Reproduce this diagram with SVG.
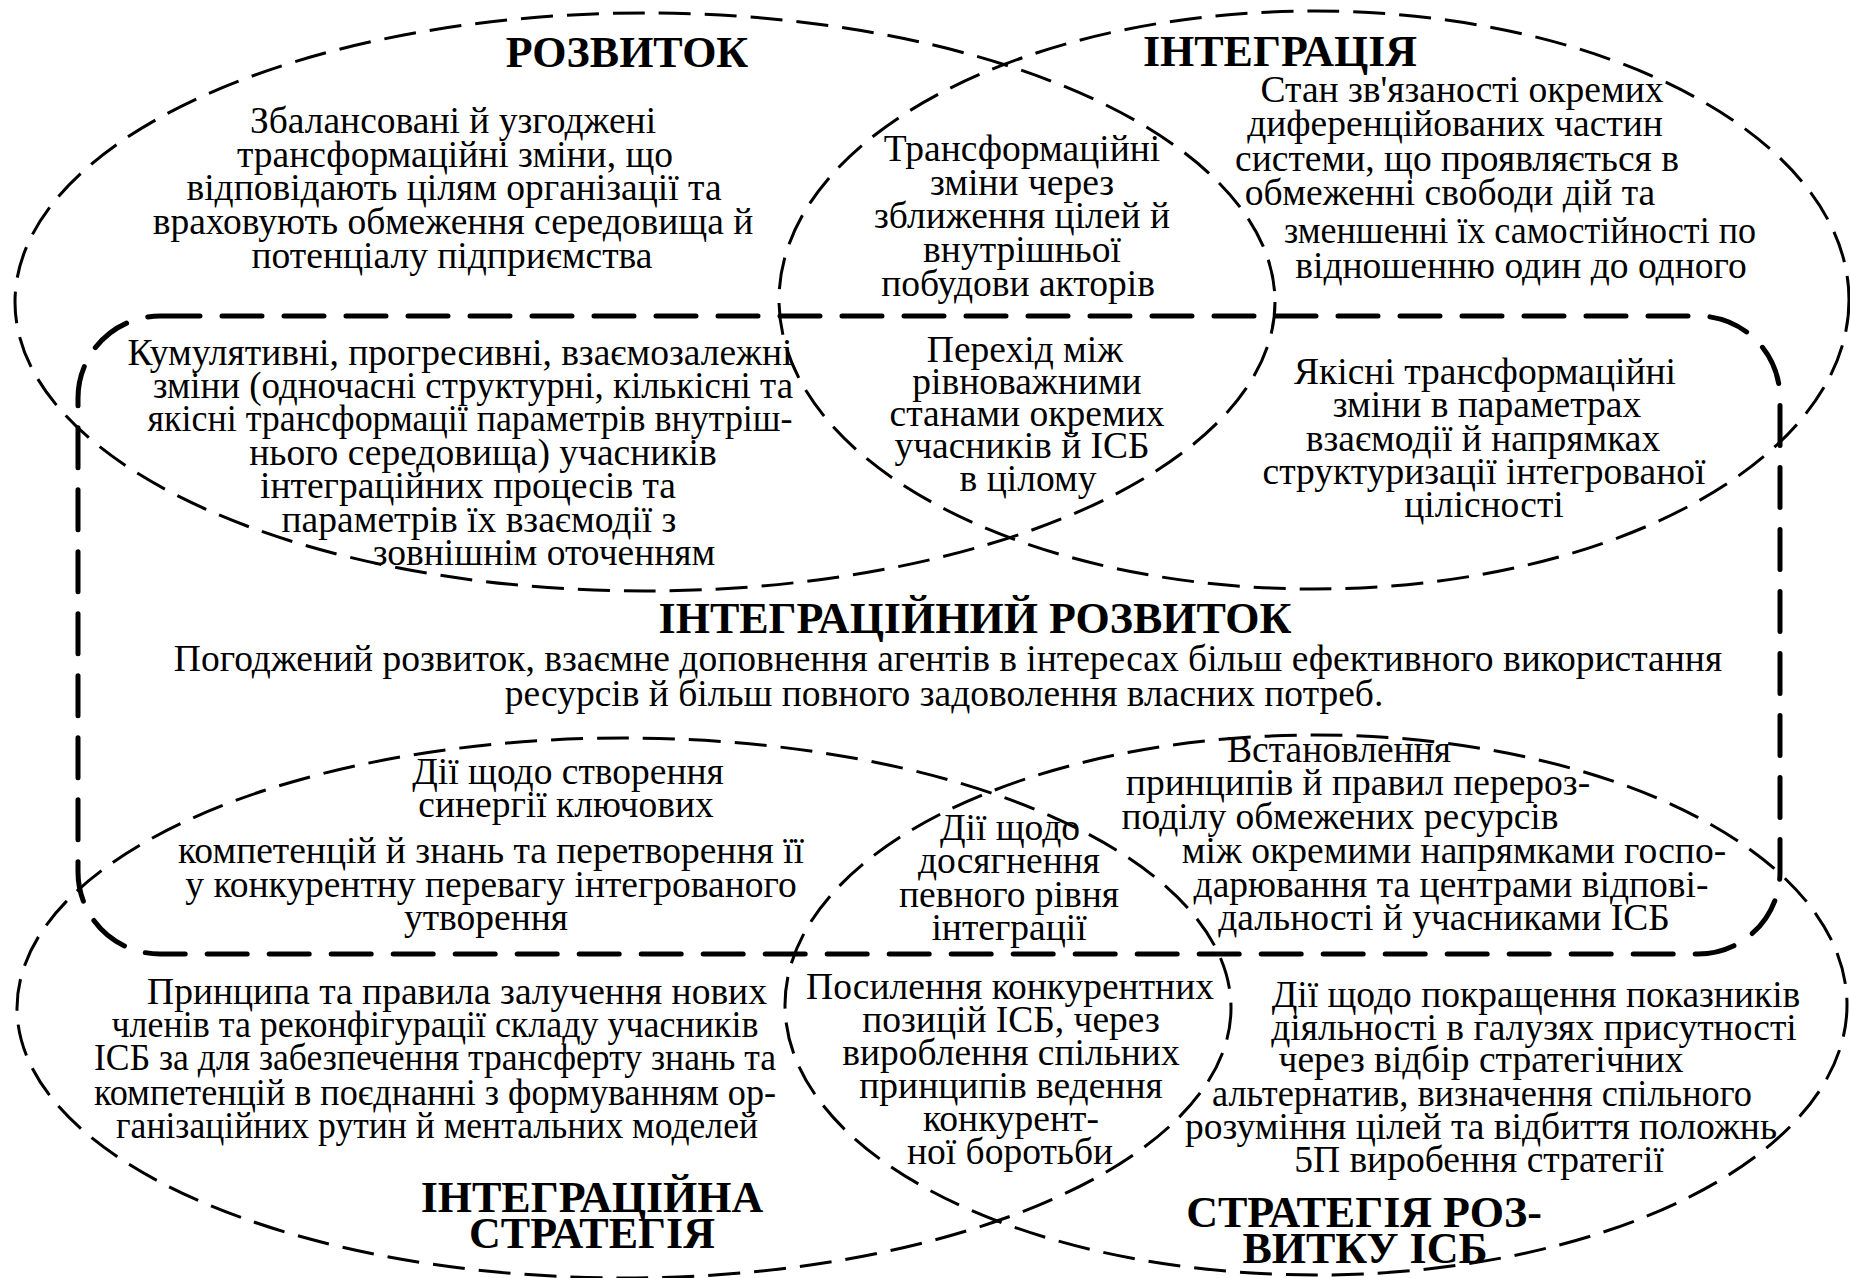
<svg xmlns="http://www.w3.org/2000/svg" width="1850" height="1278" viewBox="0 0 1850 1278">
  <style>
    .ell { fill: none; stroke: #000; stroke-width: 3; stroke-dasharray: 32 14; }
    .frame { fill: none; stroke: #000; stroke-width: 5; stroke-dasharray: 40 22; stroke-linecap: round; }
    .t { font-family: "Liberation Serif", "Times New Roman", serif; font-size: 37.5px; fill: #000; text-anchor: middle; }
    .h { font-family: "Liberation Serif", "Times New Roman", serif; font-size: 44px; font-weight: bold; fill: #000; text-anchor: middle; }
  </style>
  <rect width="1850" height="1278" fill="#fff"/>

  <!-- outline shapes -->
  <g id="shapes">
    <ellipse id="ell-rozvytok" class="ell" cx="645" cy="302" rx="630" ry="289"/>
    <ellipse id="ell-integratsiia" class="ell" cx="1314" cy="300" rx="535" ry="289"/>
    <ellipse id="ell-int-stratehiia" class="ell" cx="624" cy="1008" rx="607" ry="270"/>
    <ellipse id="ell-strat-rozvytku" class="ell" cx="1316" cy="1005" rx="531" ry="270"/>
    <rect id="frame-int-rozvytok" class="frame" x="78" y="316" width="1702" height="638" rx="82" ry="82"/>
  </g>

  <g id="connectors"></g>

  <!-- РОЗВИТОК -->
  <g id="node-rozvytok">
    <text class="h" x="627" y="67">РОЗВИТОК</text>
    <text class="t" x="453" y="133">Збалансовані й узгоджені</text>
    <text class="t" x="455" y="167">трансформаційні зміни, що</text>
    <text class="t" x="454" y="200">відповідають цілям організації та</text>
    <text class="t" x="453" y="234">враховують обмеження середовища й</text>
    <text class="t" x="452" y="268">потенціалу підприємства</text>
  </g>

  <!-- ІНТЕГРАЦІЯ -->
  <g id="node-integratsiia">
    <text class="h" x="1280" y="66">ІНТЕГРАЦІЯ</text>
    <text class="t" x="1462" y="102">Стан зв'язаності окремих</text>
    <text class="t" x="1455" y="136">диференційованих частин</text>
    <text class="t" x="1457" y="171">системи, що проявляється в</text>
    <text class="t" x="1450" y="205">обмеженні свободи дій та</text>
    <text class="t" x="1520" y="243" textLength="472" lengthAdjust="spacingAndGlyphs">зменшенні їх самостійності по</text>
    <text class="t" x="1521" y="278">відношенню один до одного</text>
  </g>

  <!-- перетин РОЗВИТОК / ІНТЕГРАЦІЯ -->
  <g id="node-rozvytok-integratsiia">
    <text class="t" x="1022" y="161">Трансформаційні</text>
    <text class="t" x="1022" y="195">зміни через</text>
    <text class="t" x="1022" y="228">зближення цілей й</text>
    <text class="t" x="1022" y="262">внутрішньої</text>
    <text class="t" x="1018" y="296">побудови акторів</text>
  </g>

  <g id="node-perekhid">
    <text class="t" x="1025" y="362">Перехід між</text>
    <text class="t" x="1027" y="394">рівноважними</text>
    <text class="t" x="1027" y="426">станами окремих</text>
    <text class="t" x="1022" y="458">учасників й ІСБ</text>
    <text class="t" x="1028" y="491">в цілому</text>
  </g>

  <g id="node-kumuliatyvni">
    <text class="t" x="460" y="365">Кумулятивні, прогресивні, взаємозалежні</text>
    <text class="t" x="473" y="398" textLength="640" lengthAdjust="spacingAndGlyphs">зміни (одночасні структурні, кількісні та</text>
    <text class="t" x="470" y="431" textLength="645" lengthAdjust="spacingAndGlyphs">якісні трансформації параметрів внутріш-</text>
    <text class="t" x="483" y="465">нього середовища) учасників</text>
    <text class="t" x="468" y="498">інтеграційних процесів та</text>
    <text class="t" x="479" y="532">параметрів їх взаємодії з</text>
    <text class="t" x="544" y="565">зовнішнім оточенням</text>
  </g>

  <g id="node-yakisni">
    <text class="t" x="1485" y="384">Якісні трансформаційні</text>
    <text class="t" x="1487" y="417">зміни в параметрах</text>
    <text class="t" x="1483" y="451">взаємодії й напрямках</text>
    <text class="t" x="1484" y="484">структуризації інтегрованої</text>
    <text class="t" x="1484" y="517">цілісності</text>
  </g>

  <!-- ІНТЕГРАЦІЙНИЙ РОЗВИТОК -->
  <g id="node-int-rozvytok">
    <text class="h" x="975" y="633">ІНТЕГРАЦІЙНИЙ РОЗВИТОК</text>
    <text class="t" x="948" y="671">Погоджений розвиток, взаємне доповнення агентів в інтересах більш ефективного використання</text>
    <text class="t" x="944" y="706">ресурсів й більш повного задоволення власних потреб.</text>
  </g>

  <g id="node-synerhiia">
    <text class="t" x="568" y="784">Дії щодо створення</text>
    <text class="t" x="566" y="817">синергії ключових</text>
    <text class="t" x="491" y="863">компетенцій й знань та перетворення її</text>
    <text class="t" x="491" y="897">у конкурентну перевагу інтегрованого</text>
    <text class="t" x="486" y="930">утворення</text>
  </g>

  <g id="node-riven-integratsii">
    <text class="t" x="1010" y="840">Дії щодо</text>
    <text class="t" x="1009" y="873">досягнення</text>
    <text class="t" x="1009" y="907">певного рівня</text>
    <text class="t" x="1009" y="940">інтеграції</text>
  </g>

  <g id="node-pererozpodil">
    <text class="t" x="1339" y="762">Встановлення</text>
    <text class="t" x="1358" y="795">принципів й правил перероз-</text>
    <text class="t" x="1340" y="829">поділу обмежених ресурсів</text>
    <text class="t" x="1454" y="863">між окремими напрямками госпо-</text>
    <text class="t" x="1451" y="897">дарювання та центрами відпові-</text>
    <text class="t" x="1444" y="930">дальності й учасниками ІСБ</text>
  </g>

  <!-- ІНТЕГРАЦІЙНА СТРАТЕГІЯ -->
  <g id="node-int-stratehiia">
    <text class="t" x="457" y="1004">Принципа та правила залучення нових</text>
    <text class="t" x="435" y="1037" textLength="647" lengthAdjust="spacingAndGlyphs">членів та реконфігурації складу учасників</text>
    <text class="t" x="435" y="1070" textLength="682" lengthAdjust="spacingAndGlyphs">ІСБ за для забезпечення трансферту знань та</text>
    <text class="t" x="435" y="1105" textLength="682" lengthAdjust="spacingAndGlyphs">компетенцій в поєднанні з формуванням ор-</text>
    <text class="t" x="437" y="1138" textLength="642" lengthAdjust="spacingAndGlyphs">ганізаційних рутин й ментальних моделей</text>
    <text class="h" x="592" y="1212">ІНТЕГРАЦІЙНА</text>
    <text class="h" x="592" y="1248">СТРАТЕГІЯ</text>
  </g>

  <g id="node-konkurentni-pozytsii">
    <text class="t" x="1010" y="999">Посилення конкурентних</text>
    <text class="t" x="1011" y="1032">позицій ІСБ, через</text>
    <text class="t" x="1011" y="1065">вироблення спільних</text>
    <text class="t" x="1011" y="1098">принципів ведення</text>
    <text class="t" x="1011" y="1131">конкурент-</text>
    <text class="t" x="1010" y="1164">ної боротьби</text>
  </g>

  <!-- СТРАТЕГІЯ РОЗВИТКУ ІСБ -->
  <g id="node-strat-rozvytku">
    <text class="t" x="1536" y="1007">Дії щодо покращення показників</text>
    <text class="t" x="1534" y="1040">діяльності в галузях присутності</text>
    <text class="t" x="1481" y="1072">через відбір стратегічних</text>
    <text class="t" x="1482" y="1106" textLength="540" lengthAdjust="spacingAndGlyphs">альтернатив, визначення спільного</text>
    <text class="t" x="1481" y="1139">розуміння цілей та відбиття положнь</text>
    <text class="t" x="1479" y="1172">5П виробення стратегії</text>
    <text class="h" x="1364" y="1227">СТРАТЕГІЯ РОЗ-</text>
    <text class="h" x="1365" y="1263">ВИТКУ ІСБ</text>
  </g>
</svg>
